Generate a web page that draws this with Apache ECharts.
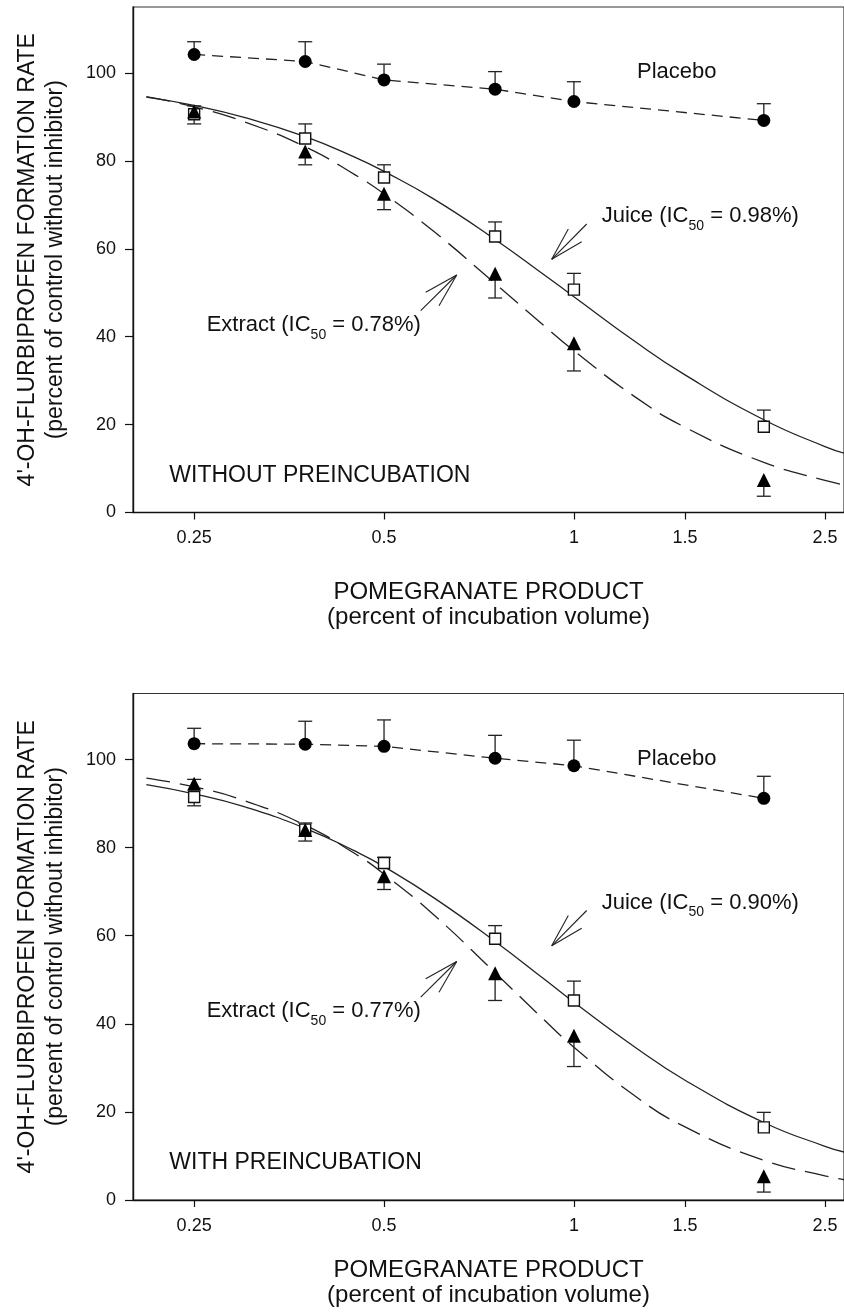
<!DOCTYPE html>
<html>
<head>
<meta charset="utf-8">
<title>Pomegranate product inhibition of flurbiprofen 4'-hydroxylation</title>
<script src="https://cdn.jsdelivr.net/npm/echarts@6/dist/echarts.min.js"></script>
<style>
  html, body { margin: 0; padding: 0; background: #fff; }
  #chart { width: 844px; height: 1312px; }
</style>
</head>
<body>
<div id="chart"></div>
<script>
// Pomegranate product concentrations (percent of incubation volume)
const doses = [0.25, 0.375, 0.5, 0.75, 1, 2];
const xTickValues = [0.25, 0.5, 1, 1.5, 2.5];
const yTickValues = [0, 20, 40, 60, 80, 100];

// Without preincubation: mean formation rate (% of control) and SE bars
const placeboA = [104.2, 102.6, 98.4, 96.3, 93.5, 89.2];
const placeboAUp = [2.9, 4.5, 3.6, 4.0, 4.5, 3.8];
const juiceA = [90.6, 85.1, 76.2, 62.8, 50.7, 19.5];
const juiceAUp = [0, 3.3, 2.9, 3.3, 3.7, 3.8];
const juiceADown = [2.2, 0, 0, 0, 0, 0];
const extractA = [91.2, 82.1, 72.5, 54.3, 38.5, 7.4];
const extractAUp = [1.3, 0, 0, 0, 0, 0];
const extractADown = [0, 3.0, 3.6, 5.5, 6.3, 3.7];

// With preincubation
const placeboB = [103.6, 103.5, 103.0, 100.3, 98.6, 91.2];
const placeboBUp = [3.5, 5.2, 6.0, 5.2, 5.8, 5.0];
const juiceB = [91.5, 84.1, 76.5, 59.3, 45.3, 16.5];
const juiceBUp = [0, 1.5, 1.3, 3.0, 4.4, 3.4];
const juiceBDown = [2.0, 0, 0, 0, 0, 0];
const extractB = [94.5, 84.0, 73.5, 51.5, 37.3, 5.4];
const extractBUp = [1.0, 0, 0, 0, 0, 0];
const extractBDown = [0, 2.5, 3.0, 6.2, 7.0, 3.6];

// Fitted inhibition curves, sampled along the dose axis
const curveX = [0.21, 0.25, 0.3, 0.375, 0.45, 0.5, 0.6, 0.75, 0.9, 1, 1.25, 1.5, 2, 2.5, 2.68];
const juiceFitA = [94.5, 92.6, 89.9, 85.5, 80.8, 77.6, 71.3, 62.1, 53.9, 49.1, 38.9, 31.3, 21.1, 15.0, 13.5];
const extractFitA = [94.6, 92.3, 88.9, 83.2, 76.8, 72.5, 63.9, 52.1, 42.3, 36.8, 26.3, 19.4, 11.4, 7.3, 6.3];
const juiceFitB = [94.3, 92.2, 89.3, 84.4, 79.2, 75.7, 68.6, 58.7, 50.0, 44.9, 34.7, 27.2, 17.6, 12.2, 10.9];
const extractFitB = [95.8, 93.8, 90.7, 85.1, 78.6, 74.0, 64.7, 51.6, 40.7, 34.7, 23.6, 16.6, 9.0, 5.5, 4.6];

// Labels
const juiceIC50A = '0.98%';
const extractIC50A = '0.78%';
const juiceIC50B = '0.90%';
const extractIC50B = '0.77%';
const panelTitleA = 'WITHOUT PREINCUBATION';
const panelTitleB = 'WITH PREINCUBATION';
const yTitle = "4'-OH-FLURBIPROFEN FORMATION RATE\n(percent of control without inhibitor)";
const xTitle = 'POMEGRANATE PRODUCT\n(percent of incubation volume)';

const FONT = '"Liberation Sans", Arial, Helvetica, sans-serif';
const INK = '#000';
const LW = 1.3;

const panels = [
  {
    grid: { left: 133, top: 7, width: 713, height: 505.5 },
    xNameGap: 67,
    placebo: placeboA, placeboUp: placeboAUp,
    juice: juiceA, juiceUp: juiceAUp, juiceDown: juiceADown,
    extract: extractA, extractUp: extractAUp, extractDown: extractADown,
    juiceFit: juiceFitA, extractFit: extractFitA,
    juiceIC50: juiceIC50A, extractIC50: extractIC50A, title: panelTitleA
  },
  {
    grid: { left: 133, top: 693.5, width: 713, height: 506.5 },
    xNameGap: 58,
    placebo: placeboB, placeboUp: placeboBUp,
    juice: juiceB, juiceUp: juiceBUp, juiceDown: juiceBDown,
    extract: extractB, extractUp: extractBUp, extractDown: extractBDown,
    juiceFit: juiceFitB, extractFit: extractFitB,
    juiceIC50: juiceIC50B, extractIC50: extractIC50B, title: panelTitleB
  }
];

const pairs = (xs, ys) => xs.map((x, i) => [x, ys[i]]);

function errorItems(ys, up, down) {
  const items = [];
  doses.forEach((x, i) => {
    if (up[i] > 0) items.push([x, ys[i], ys[i] + up[i]]);
    if (down[i] > 0) items.push([x, ys[i], ys[i] - down[i]]);
  });
  return items;
}

function renderErrorBar(params, api) {
  const x = api.value(0);
  const a = api.coord([x, api.value(1)]);
  const b = api.coord([x, api.value(2)]);
  const half = 7;
  const style = { stroke: '#222', lineWidth: LW };
  return {
    type: 'group',
    children: [
      { type: 'line', shape: { x1: a[0], y1: a[1], x2: b[0], y2: b[1] }, style },
      { type: 'line', shape: { x1: b[0] - half, y1: b[1], x2: b[0] + half, y2: b[1] }, style }
    ]
  };
}

const grids = [], xAxes = [], yAxes = [], series = [], graphics = [];

panels.forEach((p, k) => {
  grids.push(Object.assign({ show: true, borderColor: '#333', borderWidth: 1.2, containLabel: false }, p.grid));

  xAxes.push({
    type: 'log', logBase: 10, gridIndex: k, min: 0.2, max: 2.68,
    name: xTitle, nameLocation: 'middle', nameGap: p.xNameGap,
    nameTextStyle: { fontFamily: FONT, fontSize: 24, lineHeight: 25, color: '#111' },
    axisLine: { show: true, onZero: false, lineStyle: { color: '#111', width: 1.4 } },
    axisTick: { show: true, inside: false, length: 7, customValues: xTickValues, lineStyle: { color: '#111', width: 1.2 } },
    axisLabel: { customValues: xTickValues, margin: 17, fontFamily: FONT, fontSize: 18, color: '#111',
      formatter: v => String(v) },
    splitLine: { show: false }, minorTick: { show: false }, minorSplitLine: { show: false }
  });

  yAxes.push({
    type: 'value', gridIndex: k, min: 0, max: 115, interval: 20,
    name: yTitle, nameLocation: 'middle', nameRotate: 90, nameGap: 63,
    nameTextStyle: { fontFamily: FONT, fontSize: 23, lineHeight: 28, color: '#111' },
    axisLine: { show: true, onZero: false, lineStyle: { color: '#111', width: 1.4 } },
    axisTick: { show: true, inside: false, length: 8, customValues: yTickValues, lineStyle: { color: '#111', width: 1.2 } },
    axisLabel: { customValues: yTickValues, margin: 17, fontFamily: FONT, fontSize: 18, color: '#111' },
    splitLine: { show: false }
  });

  const ax = { xAxisIndex: k, yAxisIndex: k };

  // error bars first so the markers sit on top
  [[p.placebo, p.placeboUp, doses.map(() => 0)],
   [p.juice, p.juiceUp, p.juiceDown],
   [p.extract, p.extractUp, p.extractDown]].forEach(([ys, up, down]) => {
    series.push(Object.assign({
      type: 'custom', z: 1, silent: true,
      renderItem: renderErrorBar,
      encode: { x: 0, y: [1, 2] },
      data: errorItems(ys, up, down)
    }, ax));
  });

  series.push(Object.assign({
    name: 'Juice fit', type: 'line', z: 2, symbol: 'none', smooth: 0.5,
    lineStyle: { color: '#222', width: LW, type: 'solid' },
    data: pairs(curveX, p.juiceFit)
  }, ax));

  series.push(Object.assign({
    name: 'Extract fit', type: 'line', z: 2, symbol: 'none', smooth: 0.5,
    lineStyle: { color: '#222', width: LW, type: [24, 10] },
    data: pairs(curveX, p.extractFit)
  }, ax));

  series.push(Object.assign({
    name: 'Placebo', type: 'line', z: 3, symbol: 'circle', symbolSize: 13, showSymbol: true,
    itemStyle: { color: INK, opacity: 1 },
    lineStyle: { color: '#222', width: LW, type: [11, 7] },
    data: pairs(doses, p.placebo)
  }, ax));

  series.push(Object.assign({
    name: 'Juice', type: 'scatter', z: 4, symbol: 'rect', symbolSize: 11,
    itemStyle: { color: '#fff', borderColor: '#111', borderWidth: 1.4, opacity: 1 },
    data: pairs(doses, p.juice)
  }, ax));

  series.push(Object.assign({
    name: 'Extract', type: 'scatter', z: 5, symbol: 'triangle', symbolSize: 14,
    itemStyle: { color: INK, opacity: 1 },
    data: pairs(doses, p.extract)
  }, ax));

  // annotations, placed relative to the panel's plot origin
  const ox = p.grid.left, oy = p.grid.top;
  const rich = {
    m: { fontFamily: FONT, fontSize: 22, lineHeight: 34, fill: '#111', color: '#111' },
    s: { fontFamily: FONT, fontSize: 14, lineHeight: 14, verticalAlign: 'bottom', fill: '#111', color: '#111' }
  };
  const arrow = (tx, ty, ends) => ends.map(([dx, dy]) => ({
    type: 'line', silent: true,
    shape: { x1: tx, y1: ty, x2: tx + dx, y2: ty + dy },
    style: { stroke: '#222', lineWidth: 1.1 }
  }));

  graphics.push({
    type: 'text', silent: true,
    style: { x: ox + 504, y: oy + 65, text: 'Placebo', fontFamily: FONT, fontSize: 22, fill: '#111', verticalAlign: 'middle', align: 'left' }
  });

  const jtx = ox + 418.7, jty = oy + 252.3;
  graphics.push(...arrow(jtx, jty, [[35, -35.3], [16.6, -30.3], [30, -17.6]]));
  graphics.push({
    type: 'text', silent: true,
    style: { x: jtx + 50, y: jty - 60.2, text: '{m|Juice (IC}{s|50}{m| = ' + p.juiceIC50 + ')}', rich, verticalAlign: 'top', align: 'left' }
  });

  const etx = ox + 323.7, ety = oy + 268;
  graphics.push(...arrow(etx, ety, [[-36, 35.7], [-31, 17.3], [-17.7, 30.7]]));
  graphics.push({
    type: 'text', silent: true,
    style: { x: etx - 250, y: ety + 32.8, text: '{m|Extract (IC}{s|50}{m| = ' + p.extractIC50 + ')}', rich, verticalAlign: 'top', align: 'left' }
  });

  graphics.push({
    type: 'text', silent: true,
    style: { x: ox + 36.3, y: oy + 468.7, text: p.title, fontFamily: FONT, fontSize: 23, fill: '#111', verticalAlign: 'middle', align: 'left' }
  });
});

const chart = echarts.init(document.getElementById('chart'), null, { renderer: 'canvas' });
chart.setOption({
  animation: false,
  backgroundColor: '#fff',
  textStyle: { fontFamily: FONT },
  grid: grids,
  xAxis: xAxes,
  yAxis: yAxes,
  series: series,
  graphic: graphics
});
</script>
</body>
</html>
